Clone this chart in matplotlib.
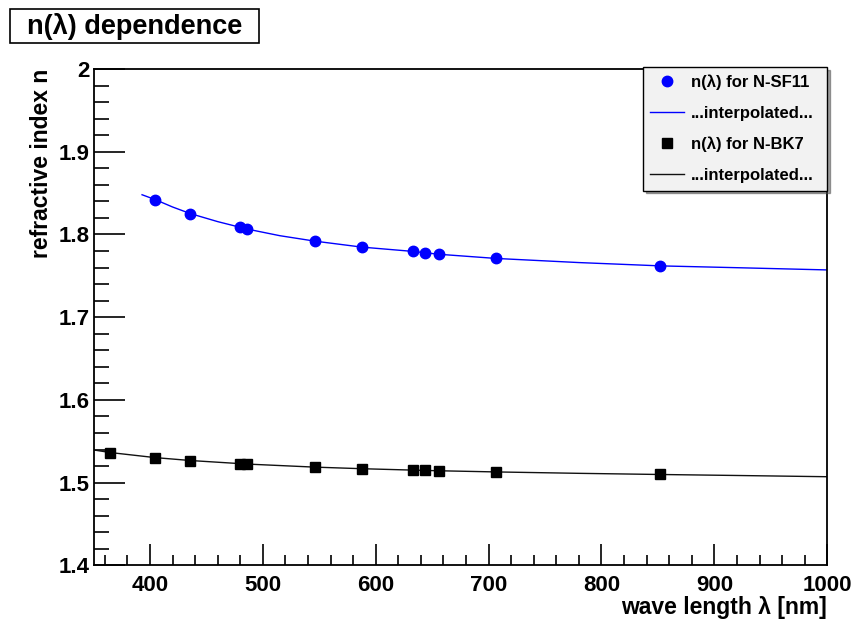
import matplotlib
matplotlib.use("Agg")
import matplotlib.pyplot as plt
from matplotlib.patches import Rectangle
from matplotlib.lines import Line2D
from matplotlib.ticker import MultipleLocator

plt.rcParams['font.family'] = ['Liberation Sans', 'DejaVu Sans']

# measured points (wavelength in nm, refractive index)
lam_sf11 = [404.7, 435.8, 480.0, 486.1, 546.1, 587.6, 632.8, 643.8, 656.3, 706.5, 852.1]
n_sf11 = [1.8421, 1.8252, 1.8084, 1.8065, 1.7919, 1.7847, 1.7795, 1.7780, 1.7760, 1.7710, 1.7620]

lam_bk7 = [365.0, 404.7, 435.8, 480.0, 486.1, 546.1, 587.6, 632.8, 643.8, 656.3, 706.5, 852.1]
n_bk7 = [1.5363, 1.5302, 1.5267, 1.5228, 1.5224, 1.5187, 1.5168, 1.5151, 1.5147, 1.5143, 1.5129, 1.5098]

# interpolated curves
lam_sf11_fit = [393, 404.7, 420, 435.8, 460, 486.1, 515, 546.1, 587.6, 632.8, 656.3, 706.5, 780, 852.1, 920, 1000]
n_sf11_fit = [1.8480, 1.8421, 1.8332, 1.8252, 1.8155, 1.8065, 1.7985, 1.7919, 1.7847, 1.7795, 1.7760, 1.7710, 1.7660, 1.7620, 1.7598, 1.7571]

lam_bk7_fit = [350, 365, 404.7, 435.8, 486.1, 546.1, 587.6, 632.8, 656.3, 706.5, 780, 852.1, 920, 1000]
n_bk7_fit = [1.5395, 1.5363, 1.5302, 1.5267, 1.5224, 1.5187, 1.5168, 1.5151, 1.5143, 1.5129, 1.5112, 1.5098, 1.5086, 1.5071]

fig = plt.figure(figsize=(8.54, 6.2), dpi=100)
ax = fig.add_axes([0.1095, 0.0882, 0.8592, 0.8005])

ax.plot(lam_sf11_fit, n_sf11_fit, '-', color='#0000ff', lw=1.0)
ax.plot(lam_sf11, n_sf11, 'o', color='#0000ff', ms=7.5, mec='#0000ff')
ax.plot(lam_bk7_fit, n_bk7_fit, '-', color='#111111', lw=1.0)
ax.plot(lam_bk7, n_bk7, 's', color='black', ms=7)

ax.set_xlim(350, 1000)
ax.set_ylim(1.4, 2.0)
ax.xaxis.set_major_locator(MultipleLocator(100))
ax.xaxis.set_minor_locator(MultipleLocator(20))
ax.yaxis.set_minor_locator(MultipleLocator(0.02))
ax.set_yticks([1.4, 1.5, 1.6, 1.7, 1.8, 1.9, 2.0])
ax.set_yticklabels(['1.4', '1.5', '1.6', '1.7', '1.8', '1.9', '2'])

ax.tick_params(axis='both', which='both', direction='in', top=False, right=False,
               labelsize=16, width=1.2)
ax.tick_params(axis='x', which='major', length=15, pad=7)
ax.tick_params(axis='x', which='minor', length=7.5)
ax.tick_params(axis='y', which='major', length=22, pad=3)
ax.tick_params(axis='y', which='minor', length=11)
for lab in ax.get_xticklabels() + ax.get_yticklabels():
    lab.set_fontweight('bold')
for sp in ax.spines.values():
    sp.set_linewidth(1.3)

ax.set_xlabel('wave length \u03bb [nm]', fontsize=16.5, fontweight='bold', loc='right', labelpad=0)
ax.set_ylabel('refractive index n', fontsize=16.5, fontweight='bold', loc='top', labelpad=4)

handles = [
    Line2D([], [], ls='none', marker='o', color='#0000ff', ms=7.5),
    Line2D([], [], color='#0000ff', lw=1.0),
    Line2D([], [], ls='none', marker='s', color='black', ms=7),
    Line2D([], [], color='#111111', lw=1.0),
]
labels = ['n(\u03bb) for N-SF11', '...interpolated...', 'n(\u03bb) for N-BK7', '...interpolated...']
leg = fig.legend(handles, labels, loc='upper left',
                 bbox_to_anchor=(643 / 854, 1 - 191 / 620, 184 / 854, 124 / 620),
                 mode='expand', prop={'weight': 'bold', 'size': 12},
                 labelspacing=0.95, handlelength=2.0, handletextpad=0.45,
                 borderpad=0.45, borderaxespad=0, fancybox=False, shadow=True,
                 framealpha=1)
leg.get_frame().set_facecolor('#f2f2f2')
leg.get_frame().set_edgecolor('black')
leg.get_frame().set_linewidth(1.0)

# title box
fig.patches.append(Rectangle((10 / 854, 1 - 43 / 620), 249 / 854, 34 / 620,
                             transform=fig.transFigure, facecolor='white',
                             edgecolor='black', lw=1.2))
fig.text(134.5 / 854, 1 - 26.5 / 620, 'n(\u03bb) dependence', ha='center', va='center',
         fontsize=19.5, fontweight='bold')

fig.savefig('out.png', dpi=100)
